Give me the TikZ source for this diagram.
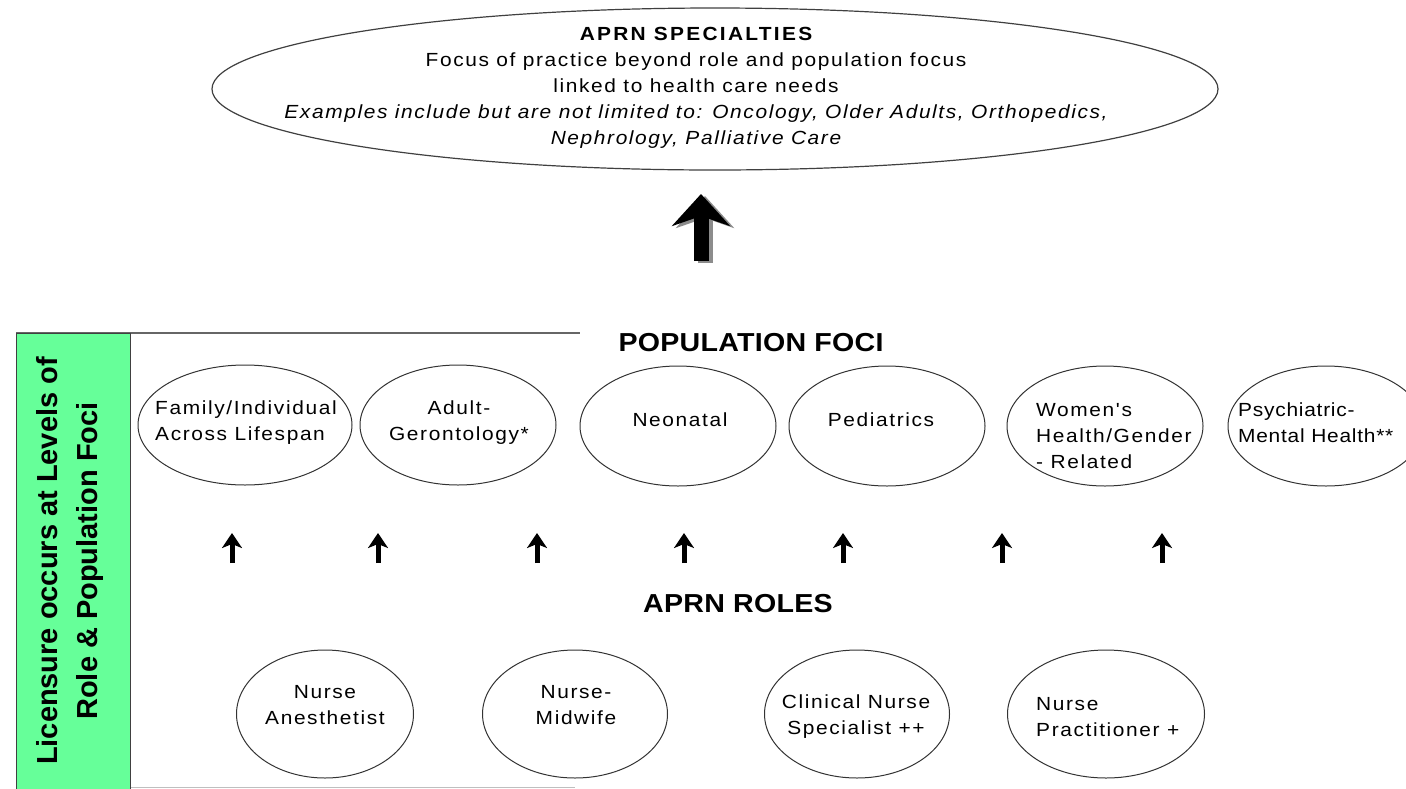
\documentclass[tikz,border=0pt]{standalone}
\usepackage{fontspec}
\setmainfont{Liberation Sans}
\newfontfamily\widesans{Liberation Sans}[FakeStretch=1.1,LetterSpace=8.5]
\usetikzlibrary{shapes.geometric,arrows.meta}
\definecolor{licgreen}{RGB}{102,255,153}

\begin{document}
\begin{tikzpicture}[x=1pt,y=1pt,
	oval/.style={draw=black!80, line width=1pt, ellipse, inner sep=0pt, minimum height=120pt},
	roleoval/.style={draw=black!80, line width=1pt, ellipse, inner sep=0pt, minimum height=128pt},
	ovaltext/.style={inner sep=0pt, font=\widesans\fontsize{19}{26}\selectfont},
	heading/.style={inner sep=0pt, font=\widesans\bfseries\addfontfeature{LetterSpace=1}\fontsize{26}{30}\selectfont},
	bigarrow/.style={line width=15pt, -{Stealth[length=32pt,width=58pt,inset=10pt]}},
	uparrow/.style={line width=5pt, -{Stealth[length=15pt,width=20pt,inset=4pt]}}]
	\useasboundingbox (0,0) rectangle (1406,-788);
	\clip (0,0) rectangle (1406,-788);
	\node[draw=black!75, line width=1.2pt, ellipse, inner sep=0pt, minimum width=1006pt, minimum height=162pt] (specoval) at (715,-89) {};
	\node[align=center, inner sep=0pt, font=\widesans\fontsize{19}{26}\selectfont] (spectext) at (696,-88)
		{{\bfseries\addfontfeature{LetterSpace=12}APRN SPECIALTIES}\\
		Focus of practice beyond role and population focus\\
		linked to health care needs\\
		\itshape Examples include but are not limited to: Oncology, Older Adults, Orthopedics,\\
		\itshape Nephrology, Palliative Care};
	\coordinate (bigfoot) at (701,-261);
	\coordinate (bigtip) at (701,-194);
	\draw[bigarrow, black!45] ([shift={(4,-2)}]bigfoot) -- ([shift={(4,-2)}]bigtip);
	\draw[bigarrow] (bigfoot) -- (bigtip);
	\draw[black!60, line width=2pt] (16,-333) -- (580,-333);
	\draw[black!25, line width=1pt] (130,-787) -- (575,-787);
	\node[draw=black!75, fill=licgreen, line width=1pt, inner sep=0pt, minimum width=114pt, minimum height=470pt, anchor=north west] (licbox) at (16,-333) {};
	\node[rotate=90, align=center, inner sep=0pt, font=\bfseries\fontsize{29}{40}\selectfont] (lictext) at (70,-561)
		{Licensure occurs at Levels of\\Role \& Population Foci};
	\node[heading] (pophead) at (751,-343) {POPULATION FOCI};
	\node[oval, minimum width=214pt] (family) at (245,-425) {};
	\node[oval, minimum width=196pt] (adult) at (458,-425) {};
	\node[oval, minimum width=196pt] (neonatal) at (678,-426) {};
	\node[oval, minimum width=196pt] (pediatrics) at (887,-426) {};
	\node[oval, minimum width=196pt] (women) at (1105,-426) {};
	\node[oval, minimum width=196pt] (psych) at (1326,-426) {};
	\node[ovaltext, align=left, anchor=west] (familytext) at (155,-423) {Family/Individual\\Across Lifespan};
	\node[ovaltext, align=center] (adulttext) at (459,-423) {Adult-\\Gerontology*};
	\node[ovaltext] (neonataltext) at (680,-420) {Neonatal};
	\node[ovaltext] (pediatricstext) at (881,-420) {Pediatrics};
	\node[ovaltext, align=left, anchor=west] (womentext) at (1036,-436) {Women's\\Health/Gender\\- Related};
	\node[ovaltext, align=left, anchor=west, font=\widesans\addfontfeature{LetterSpace=4}\fontsize{19}{26}\selectfont] (psychtext) at (1238,-423) {Psychiatric-\\Mental Health**};
	\foreach \ax [count=\i] in {232,378,537,684,843,1002,1162} {
		\coordinate (low\i) at (\ax,-563);
		\coordinate (high\i) at (\ax,-533);
		\draw[uparrow] (low\i) -- (high\i);
	}
	\node[heading] (rolehead) at (738,-604) {APRN ROLES};
	\node[roleoval, minimum width=177pt] (anesth) at (325,-714) {};
	\node[roleoval, minimum width=185pt] (midwife) at (575,-714) {};
	\node[roleoval, minimum width=185pt] (cns) at (857,-714) {};
	\node[roleoval, minimum width=197pt] (np) at (1106,-714) {};
	\node[ovaltext, align=center] (anesthtext) at (325,-705) {Nurse\\Anesthetist};
	\node[ovaltext, align=center] (midwifetext) at (576,-705) {Nurse-\\Midwife};
	\node[ovaltext, align=center] (cnstext) at (856,-717) {Clinical Nurse\\Specialist ++};
	\node[ovaltext, align=left, anchor=west] (nptext) at (1036,-717) {Nurse\\Practitioner +};
\end{tikzpicture}
\end{document}
